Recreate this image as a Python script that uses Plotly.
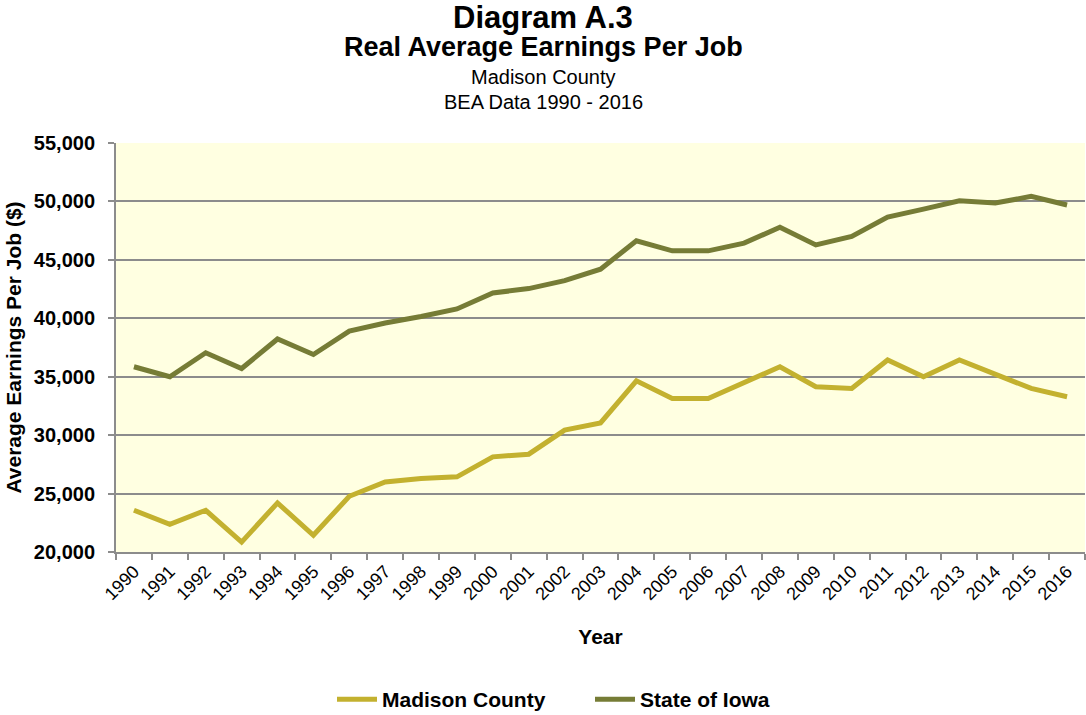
import plotly.graph_objects as go

years = [str(y) for y in range(1990, 2017)]
madison_county = [23570, 22370, 23570, 20850, 24200, 21430, 24770, 26000, 26280, 26430,
                  28140, 28370, 30430, 31050, 34650, 33140, 33140, 34510, 35850, 34140,
                  34000, 36430, 35000, 36430, 35200, 34000, 33290]
state_of_iowa = [35850, 35000, 37050, 35700, 38230, 36900, 38900, 39600, 40150, 40800,
                 42170, 42540, 43220, 44200, 46630, 45770, 45770, 46430, 47800, 46280,
                 47000, 48660, 49340, 50050, 49860, 50430, 49690]
y_ticks = list(range(20000, 55001, 5000))

FONT = "Arial, Liberation Sans, sans-serif"
GRID = "#8c8c8c"

fig = go.Figure()
fig.add_trace(go.Scatter(x=years, y=madison_county, mode="lines", name="Madison County",
                         line=dict(color="#C3B12F", width=5)))
fig.add_trace(go.Scatter(x=years, y=state_of_iowa, mode="lines", name="State of Iowa",
                         line=dict(color="#767C36", width=5)))

L, R, T, B = 116, 1, 143, 163
W, H = 1086, 715
pw = W - L - R
ph = H - T - B

def xpaper(px):
    return (px - L) / pw

def ypaper(px):
    return (H - B - px) / ph

titles = [
    ("<b>Diagram A.3</b>", 17, 31),
    ("<b>Real Average Earnings Per Job</b>", 47, 27),
    ("Madison County", 77, 20),
    ("BEA Data 1990 - 2016", 102, 20),
]
for text, ypx, size in titles:
    fig.add_annotation(text=text, xref="paper", yref="paper",
                       x=xpaper(543), y=ypaper(ypx),
                       xanchor="center", yanchor="middle", showarrow=False,
                       font=dict(family=FONT, size=size, color="black"))

fig.update_layout(
    width=W, height=H,
    margin=dict(l=L, r=R, t=T, b=B, autoexpand=False),
    paper_bgcolor="white",
    plot_bgcolor="#FFFFE1",
    font=dict(family=FONT, color="black"),
    showlegend=True,
    legend=dict(orientation="h", x=xpaper(332), xanchor="left", y=ypaper(720), yanchor="bottom",
                font=dict(family=FONT, size=21, color="black", weight="bold"),
                itemwidth=40, entrywidthmode="pixels", entrywidth=203),
    xaxis=dict(
        type="category", range=[-0.5, 26.5], automargin=False,
        showgrid=False, showline=True, linecolor=GRID, linewidth=2,
        ticks="outside", tickson="boundaries", ticklen=6, tickcolor=GRID, tickwidth=1.5,
        tickangle=-45, tickfont=dict(family=FONT, size=18, color="black"),
        title=dict(text="Year", font=dict(family=FONT, size=21, weight="bold"), standoff=26),
    ),
    yaxis=dict(
        range=[20000, 55000], tickvals=y_ticks, tickformat=",", automargin=False,
        showgrid=True, gridcolor=GRID, gridwidth=2,
        showline=True, linecolor=GRID, linewidth=2,
        ticks="outside", ticklen=6, tickcolor=GRID, tickwidth=1.5,
        tickfont=dict(family=FONT, size=20, color="black", weight="bold"),
        ticklabelstandoff=9,
        title=dict(text="Average Earnings Per Job ($)",
                   font=dict(family=FONT, size=21, weight="bold"), standoff=6),
        zeroline=False,
    ),
)

fig.write_html("out.html")
